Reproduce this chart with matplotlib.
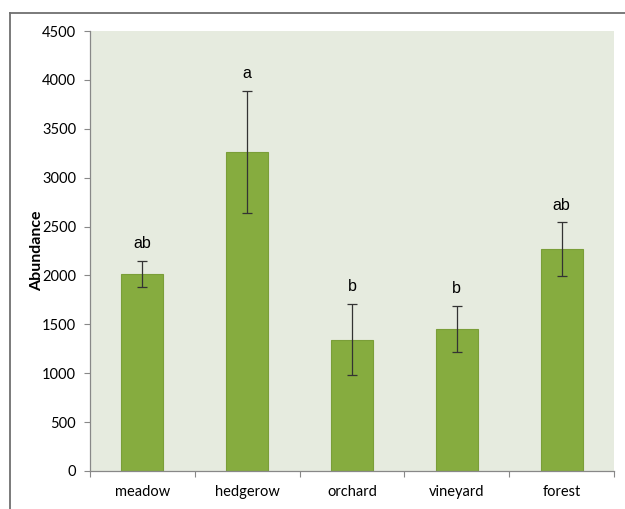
import numpy as np
import matplotlib.pyplot as plt
from matplotlib.lines import Line2D

# habitat categories and mean abundance with error
habitats = ['meadow', 'hedgerow', 'orchard', 'vineyard', 'forest']
abundance = [2015, 3262, 1343, 1455, 2270]
errors = [135, 625, 363, 237, 274]
letters = ['ab', 'a', 'b', 'b', 'ab']

fig = plt.figure(figsize=(6.25, 5.09), dpi=100)
ax = fig.add_axes([0.144, 0.0747, 0.8384, 0.8643])
ax.set_facecolor('#E6EBDF')

x = np.arange(len(habitats)) + 0.5
ax.bar(x, abundance, width=0.4, color='#86AC3F', edgecolor='#7A9E38', linewidth=0.8, zorder=2)
ax.errorbar(x, abundance, yerr=errors, fmt='none', ecolor='#333333', elinewidth=0.9,
            capsize=3.5, capthick=0.9, zorder=3)

for xi, v, e, lab in zip(x, abundance, errors, letters):
    ax.annotate(lab, (xi, v + e), xytext=(0, 7), textcoords='offset points',
                ha='center', va='bottom', fontsize=11.5, family='Liberation Sans')

ax.set_xlim(0, len(habitats))
ax.set_ylim(0, 4500)
ax.set_yticks(np.arange(0, 4501, 500))
ax.set_xticks(np.arange(len(habitats) + 1))
ax.set_xticklabels([])
ax.set_xticks(x, minor=True)
ax.set_xticklabels(habitats, minor=True, fontsize=10.5, family='Lato')
ax.tick_params(axis='x', which='minor', length=0, pad=10)
ax.tick_params(axis='x', which='major', length=4, color='#888888', direction='out')
ax.tick_params(axis='y', length=4, color='#888888', pad=6, labelsize=10.5)
for lbl in ax.get_yticklabels():
    lbl.set_family('Lato')

for s in ['top', 'right']:
    ax.spines[s].set_visible(False)
for s in ['left', 'bottom']:
    ax.spines[s].set_color('#888888')
    ax.spines[s].set_linewidth(0.9)

ax.set_ylabel('Abundance', fontsize=11.5, fontweight='bold', family='Lato', va='center')
ax.yaxis.set_label_coords(-0.101, 0.5)

# outer frame lines (top and left of the exported image)
fig.add_artist(Line2D([0.016, 1.0], [0.975, 0.975], color='#707070', lw=1.3))
fig.add_artist(Line2D([0.016, 0.016], [0.0, 0.975], color='#707070', lw=1.3))

plt.savefig('out.png', dpi=100)
